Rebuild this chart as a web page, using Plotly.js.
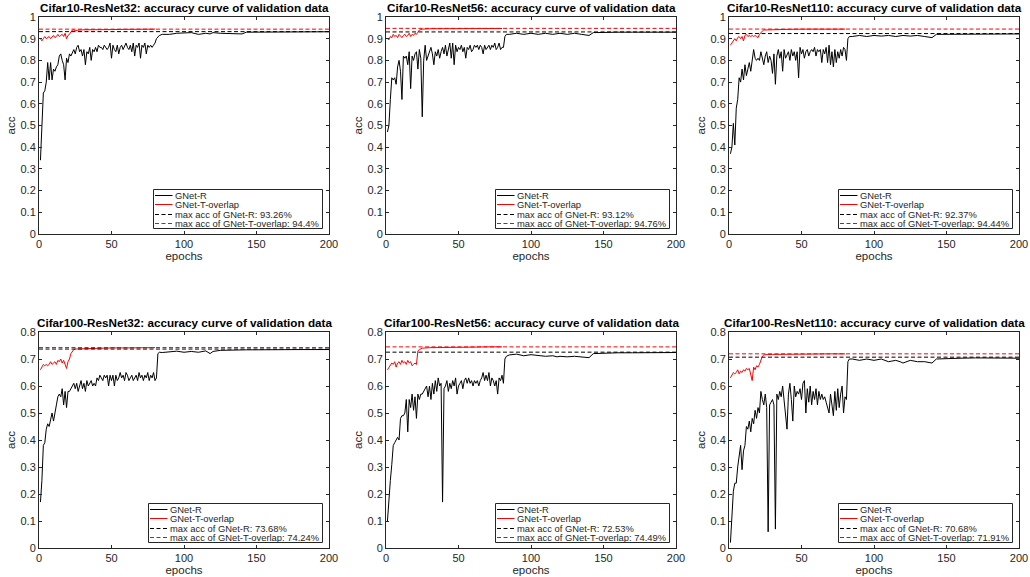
<!DOCTYPE html>
<html>
<head>
<meta charset="utf-8">
<script src="https://cdn.plot.ly/plotly-3.0.1.min.js"></script>
<style>html,body{margin:0;padding:0;background:#fff;}#chart{width:1030px;height:577px;}</style>
</head>
<body>
<div id="chart"></div>
<script>
// ---------------- DATA ----------------
const titles = [
  "Cifar10-ResNet32: accuracy curve of validation data",
  "Cifar10-ResNet56: accuracy curve of validation data",
  "Cifar10-ResNet110: accuracy curve of validation data",
  "Cifar100-ResNet32: accuracy curve of validation data",
  "Cifar100-ResNet56: accuracy curve of validation data",
  "Cifar100-ResNet110: accuracy curve of validation data"
];
const seriesNames = ["GNet-R", "GNet-T-overlap"];
const xTickVals = [0, 50, 100, 150, 200];

const epochsR = [1,2,3,4,5,6,7,8,9,10,11,12,13,14,15,16,17,18,19,20,21,22,23,24,25,26,27,28,29,30,
  31,32,33,34,35,36,37,38,39,40,41,42,43,44,45,46,47,48,49,50,51,52,53,54,55,56,57,58,59,60,
  61,62,63,64,65,66,67,68,69,70,71,72,73,74,75,76,77,78,79,80,81,82,
  83,85,90,95,100,105,110,115,118,120,125,130,135,140,143,150,160,170,180,190,200];
const epochsT = [1,2,3,4,5,6,7,8,9,10,11,12,13,14,15,16,17,18,19,20,21,22,23,24,25,30,40,50,60,70,80];

const c10r32R = [0.34,0.50,0.65,0.66,0.70,0.79,0.71,0.79,0.71,0.76,0.75,0.77,0.78,0.82,0.83,0.80,0.78,0.71,0.81,0.79,
  0.83,0.82,0.84,0.85,0.83,0.86,0.87,0.84,0.85,0.82,0.85,0.78,0.84,0.83,0.86,0.80,0.85,0.84,0.86,0.84,
  0.87,0.86,0.86,0.85,0.87,0.86,0.85,0.86,0.88,0.81,0.87,0.85,0.84,0.87,0.83,0.86,0.87,0.85,0.87,0.88,
  0.86,0.85,0.87,0.84,0.88,0.82,0.87,0.86,0.88,0.81,0.87,0.86,0.88,0.83,0.87,0.86,0.87,0.86,0.87,0.88,0.90,0.91,
  0.915,0.92,0.92,0.925,0.925,0.928,0.92,0.925,0.922,0.928,0.925,0.925,0.922,0.922,0.93,0.93,0.931,0.932,0.931,0.932,0.932];
const c10r32T = [0.90,0.89,0.90,0.91,0.90,0.905,0.91,0.90,0.91,0.915,0.905,0.91,0.92,0.91,0.915,0.92,0.91,0.925,0.90,0.915,
  0.92,0.93,0.94,0.94,0.938,0.941,0.943,0.942,0.943,0.944,0.944];

const c10r56R = [0.47,0.50,0.62,0.72,0.71,0.72,0.69,0.77,0.80,0.75,0.62,0.82,0.81,0.82,0.78,0.84,0.67,0.82,0.80,0.83,
  0.84,0.76,0.85,0.81,0.54,0.80,0.87,0.80,0.82,0.84,0.86,0.83,0.78,0.84,0.82,0.85,0.81,0.84,0.86,0.83,
  0.87,0.82,0.85,0.88,0.81,0.88,0.78,0.87,0.84,0.86,0.85,0.87,0.84,0.86,0.81,0.86,0.85,0.87,0.84,0.85,
  0.87,0.86,0.87,0.85,0.87,0.86,0.83,0.87,0.85,0.86,0.87,0.85,0.87,0.86,0.88,0.85,0.86,0.88,0.85,0.86,0.86,0.91,
  0.92,0.92,0.925,0.92,0.925,0.92,0.925,0.92,0.922,0.925,0.92,0.925,0.92,0.915,0.928,0.93,0.93,0.93,0.931,0.931,0.93];
const c10r56T = [0.90,0.895,0.91,0.905,0.92,0.91,0.915,0.905,0.92,0.91,0.905,0.915,0.92,0.91,0.915,0.925,0.91,0.92,0.915,0.925,
  0.92,0.93,0.94,0.942,0.944,0.946,0.946,0.947,0.947,0.947,0.947];

const c10r110R = [0.37,0.40,0.51,0.41,0.58,0.62,0.72,0.70,0.76,0.71,0.78,0.73,0.76,0.79,0.75,0.80,0.85,0.81,0.80,0.81,
  0.80,0.84,0.81,0.78,0.82,0.84,0.79,0.82,0.80,0.74,0.83,0.69,0.82,0.85,0.81,0.84,0.75,0.85,0.81,0.83,
  0.84,0.80,0.85,0.82,0.84,0.80,0.84,0.72,0.86,0.83,0.85,0.81,0.84,0.85,0.82,0.84,0.85,0.84,0.86,0.82,
  0.85,0.84,0.85,0.79,0.85,0.83,0.86,0.79,0.87,0.78,0.84,0.77,0.85,0.79,0.84,0.81,0.85,0.82,0.86,0.85,0.80,0.90,
  0.91,0.91,0.915,0.91,0.915,0.912,0.915,0.91,0.913,0.915,0.912,0.915,0.91,0.905,0.92,0.92,0.922,0.922,0.922,0.923,0.922];
const c10r110T = [0.87,0.88,0.89,0.90,0.89,0.905,0.91,0.90,0.91,0.89,0.915,0.92,0.91,0.915,0.91,0.915,0.91,0.915,0.91,0.905,
  0.92,0.93,0.935,0.94,0.94,0.942,0.943,0.944,0.944,0.944,0.944];

const c100r32R = [0.17,0.25,0.38,0.39,0.44,0.46,0.45,0.48,0.50,0.47,0.51,0.53,0.56,0.57,0.56,0.59,0.53,0.58,0.52,0.58,
  0.58,0.59,0.60,0.61,0.59,0.61,0.58,0.60,0.62,0.59,0.61,0.58,0.62,0.60,0.61,0.62,0.60,0.61,0.60,0.63,
  0.62,0.64,0.63,0.62,0.64,0.63,0.64,0.60,0.64,0.62,0.64,0.60,0.64,0.62,0.63,0.65,0.63,0.64,0.62,0.65,
  0.64,0.62,0.63,0.64,0.62,0.63,0.64,0.62,0.65,0.63,0.64,0.62,0.64,0.63,0.65,0.62,0.64,0.63,0.65,0.62,0.63,0.72,
  0.725,0.724,0.726,0.729,0.725,0.728,0.725,0.73,0.72,0.728,0.732,0.733,0.733,0.734,0.734,0.734,0.735,0.735,0.735,0.735,0.735];
const c100r32T = [0.66,0.67,0.68,0.675,0.68,0.675,0.68,0.69,0.68,0.685,0.69,0.68,0.695,0.69,0.70,0.685,0.695,0.68,0.665,0.69,
  0.70,0.72,0.73,0.735,0.737,0.738,0.74,0.741,0.741,0.742,0.742];

const c100r56R = [0.10,0.20,0.25,0.31,0.38,0.39,0.40,0.41,0.40,0.48,0.49,0.49,0.50,0.55,0.43,0.55,0.52,0.57,0.51,0.56,
  0.48,0.57,0.55,0.57,0.57,0.58,0.59,0.60,0.56,0.60,0.55,0.61,0.57,0.62,0.58,0.63,0.60,0.61,0.17,0.59,
  0.60,0.62,0.58,0.61,0.59,0.62,0.60,0.63,0.57,0.60,0.61,0.62,0.59,0.62,0.63,0.61,0.63,0.61,0.62,0.60,
  0.62,0.61,0.62,0.60,0.62,0.63,0.65,0.62,0.64,0.62,0.65,0.60,0.63,0.62,0.60,0.62,0.57,0.63,0.62,0.64,0.61,0.70,
  0.71,0.715,0.718,0.712,0.716,0.712,0.71,0.712,0.708,0.71,0.708,0.71,0.707,0.705,0.72,0.722,0.723,0.723,0.724,0.724,0.724];
const c100r56T = [0.66,0.67,0.68,0.685,0.68,0.69,0.67,0.685,0.69,0.68,0.695,0.685,0.69,0.68,0.695,0.685,0.69,0.675,0.68,0.685,
  0.68,0.73,0.735,0.738,0.74,0.742,0.742,0.744,0.744,0.745,0.745];

const c100r110R = [0.02,0.12,0.21,0.24,0.24,0.30,0.35,0.38,0.29,0.36,0.38,0.45,0.44,0.47,0.43,0.48,0.46,0.51,0.48,0.52,
  0.50,0.58,0.55,0.53,0.57,0.52,0.06,0.53,0.54,0.55,0.53,0.07,0.57,0.55,0.58,0.56,0.60,0.55,0.51,0.44,
  0.57,0.61,0.55,0.47,0.60,0.56,0.58,0.57,0.59,0.55,0.61,0.62,0.50,0.59,0.54,0.60,0.53,0.58,0.55,0.59,
  0.53,0.58,0.55,0.57,0.55,0.56,0.54,0.52,0.50,0.57,0.52,0.49,0.58,0.51,0.59,0.52,0.57,0.60,0.50,0.56,0.55,0.69,
  0.70,0.70,0.695,0.70,0.695,0.70,0.69,0.695,0.69,0.685,0.695,0.69,0.69,0.685,0.70,0.702,0.703,0.704,0.704,0.705,0.703];
const c100r110T = [0.63,0.64,0.65,0.645,0.65,0.66,0.645,0.655,0.65,0.66,0.655,0.665,0.66,0.665,0.645,0.62,0.67,0.66,0.675,0.67,
  0.68,0.70,0.71,0.715,0.716,0.717,0.718,0.718,0.718,0.719,0.719];

const maxAccR = [0.9326, 0.9312, 0.9237, 0.7368, 0.7253, 0.7068];
const maxAccT = [0.944, 0.9476, 0.9444, 0.7424, 0.7449, 0.7191];
const yMax = [1, 1, 1, 0.8, 0.8, 0.8];

const seriesR = [c10r32R, c10r56R, c10r110R, c100r32R, c100r56R, c100r110R];
const seriesT = [c10r32T, c10r56T, c10r110T, c100r32T, c100r56T, c100r110T];

// ---------------- LAYOUT ----------------
const W = 1030, H = 577;
const cols = [[39, 329], [386, 676], [729, 1019]];
const rows = [[17, 234], [332, 548]];
const FONT = '"Liberation Sans", Arial, Helvetica, sans-serif';
const TXT = '#262626';
const px = v => v / W;
const py = v => 1 - v / H;

function pct(v) { return String(+(v * 100).toFixed(2)) + '%'; }

const canvas = document.createElement('canvas');
const ctx = canvas.getContext('2d');
const LEG_SIZE = 9.4;
ctx.font = LEG_SIZE + 'px "Liberation Sans"';

const traces = [];
const layout = {
  width: W, height: H,
  margin: {l: 0, r: 0, t: 0, b: 0},
  paper_bgcolor: '#fff', plot_bgcolor: '#fff',
  showlegend: false,
  font: {family: FONT, color: TXT, size: 11},
  annotations: [], shapes: []
};

for (let i = 0; i < 6; i++) {
  const c = cols[i % 3], r = rows[Math.floor(i / 3)];
  const n = i + 1;
  const xa = 'xaxis' + (n === 1 ? '' : n), ya = 'yaxis' + (n === 1 ? '' : n);
  const xr = 'x' + (n === 1 ? '' : n), yr = 'y' + (n === 1 ? '' : n);
  const axCommon = {
    showline: true, mirror: 'ticks', linecolor: TXT, linewidth: 1,
    ticks: 'inside', ticklen: 3, tickcolor: TXT, tickwidth: 1,
    showgrid: false, zeroline: false, fixedrange: true,
    ticklabeloverflow: 'allow',
    tickfont: {family: FONT, size: 11, color: TXT}
  };
  layout[xa] = Object.assign({}, axCommon, {
    domain: [px(c[0]), px(c[1])], anchor: yr, range: [0, 200],
    tickvals: xTickVals, ticktext: xTickVals.map(String),
    title: {text: 'epochs', font: {family: FONT, size: 11.5, color: TXT}, standoff: 0}
  });
  layout[ya] = Object.assign({}, axCommon, {
    domain: [py(r[1]), py(r[0])], anchor: xr, range: [0, yMax[i]], dtick: 0.1, tick0: 0,
    title: {text: 'acc', font: {family: FONT, size: 11.5, color: TXT}, standoff: 2}
  });

  const labels = [seriesNames[0], seriesNames[1],
    'max acc of ' + seriesNames[0] + ': ' + pct(maxAccR[i]),
    'max acc of ' + seriesNames[1] + ': ' + pct(maxAccT[i])];

  traces.push({x: epochsR, y: seriesR[i], type: 'scatter', mode: 'lines', name: labels[0],
    line: {color: '#000000', width: 1}, xaxis: xr, yaxis: yr});
  traces.push({x: epochsT, y: seriesT[i], type: 'scatter', mode: 'lines', name: labels[1],
    line: {color: '#ff0000', width: 1}, xaxis: xr, yaxis: yr});
  traces.push({x: [0, 200], y: [maxAccR[i], maxAccR[i]], type: 'scatter', mode: 'lines', name: labels[2],
    line: {color: '#000000', width: 1, dash: '4px,2.5px'}, xaxis: xr, yaxis: yr});
  traces.push({x: [0, 200], y: [maxAccT[i], maxAccT[i]], type: 'scatter', mode: 'lines', name: labels[3],
    line: {color: '#ff0000', width: 1, dash: '4px,2.5px'}, xaxis: xr, yaxis: yr});

  // title
  layout.annotations.push({
    xref: 'paper', yref: 'paper', x: px((c[0] + c[1]) / 2), y: py(r[0] - 9.5),
    xanchor: 'center', yanchor: 'middle', showarrow: false, borderpad: 0,
    text: '<b>' + titles[i] + '</b>', font: {family: FONT, size: 11.7, color: '#000'}
  });

  // legend box (drawn inside the axes, bottom-right)
  let tw = 0;
  labels.forEach(s => { tw = Math.max(tw, ctx.measureText(s).width); });
  const bw = Math.round(tw + 25), bh = 39;
  const bR = c[1] - 6.5, bB = r[1] - 5.5, bL = bR - bw, bT = bB - bh;
  layout.shapes.push({type: 'rect', xref: 'paper', yref: 'paper',
    x0: px(bL), x1: px(bR), y0: py(bB), y1: py(bT),
    line: {color: TXT, width: 1}, fillcolor: '#fff', layer: 'above'});
  const styles = [
    {color: '#000000', dash: 'solid'}, {color: '#ff0000', dash: 'solid'},
    {color: '#000000', dash: '4px,2.5px'}, {color: '#ff0000', dash: '4px,2.5px'}
  ];
  for (let k = 0; k < 4; k++) {
    const yc = Math.round(bT + 5 + 9.5 * k) + 0.5;
    layout.shapes.push({type: 'line', xref: 'paper', yref: 'paper',
      x0: px(bL + 1.5), x1: px(bL + 19), y0: py(yc), y1: py(yc),
      line: {color: styles[k].color, width: 1, dash: styles[k].dash}, layer: 'above'});
    layout.annotations.push({xref: 'paper', yref: 'paper', x: px(bL + 20), y: py(yc),
      xanchor: 'left', yanchor: 'middle', showarrow: false, borderpad: 0,
      text: labels[k], font: {family: FONT, size: LEG_SIZE, color: TXT}});
  }
}

Plotly.newPlot('chart', traces, layout, {staticPlot: true, displayModeBar: false});
</script>
</body>
</html>
